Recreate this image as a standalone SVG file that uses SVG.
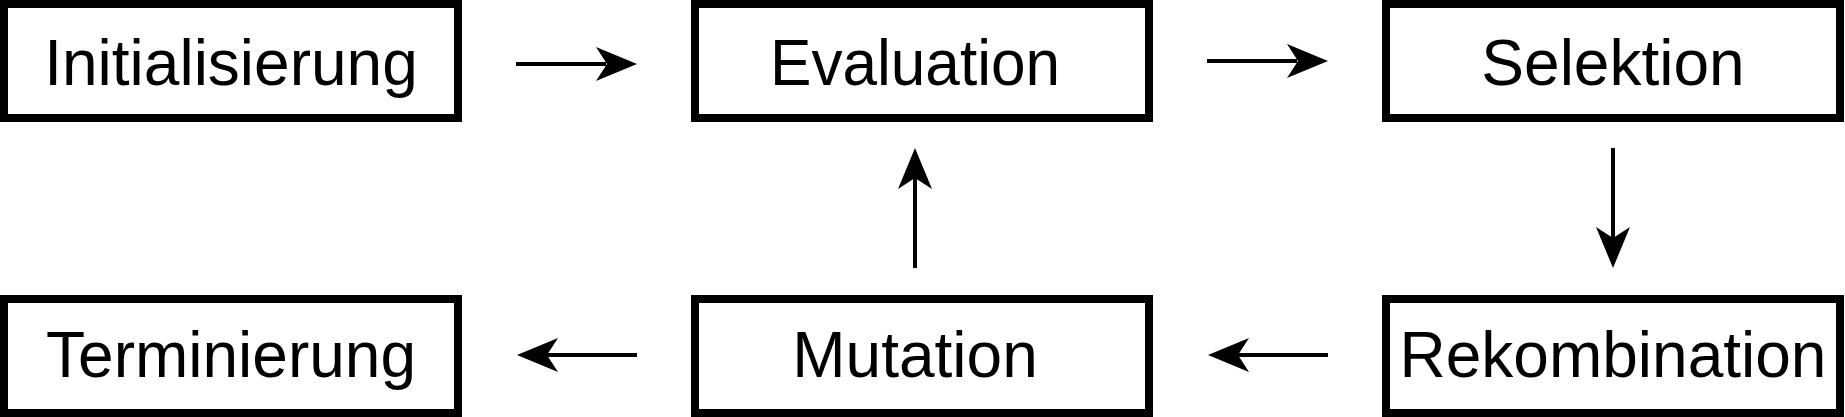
<svg xmlns="http://www.w3.org/2000/svg" width="1845" height="417" viewBox="0 0 1845 417">
<defs>
<style>
.box{fill:#fff;stroke:#000;stroke-width:8}
.lbl{font-family:"Liberation Sans",Arial,sans-serif;font-size:64px;fill:#000;text-anchor:middle}
.con{stroke:#000;stroke-width:4;fill:none}
.head{fill:#000}
</style>
</defs>
<rect width="1845" height="417" fill="#fff"/>
<g id="initialisierung"><rect class="box" x="4" y="4" width="454" height="114"/><text class="lbl" x="231" y="85">Initialisierung</text></g>
<g id="evaluation"><rect class="box" x="695" y="4" width="454" height="114"/><text class="lbl" x="915" y="85" textLength="290" lengthAdjust="spacingAndGlyphs">Evaluation</text></g>
<g id="selektion"><rect class="box" x="1386" y="4" width="454" height="114"/><text class="lbl" x="1613" y="85">Selektion</text></g>
<g id="terminierung"><rect class="box" x="4" y="299" width="454" height="114"/><text class="lbl" x="231" y="377">Terminierung</text></g>
<g id="mutation"><rect class="box" x="695" y="299" width="454" height="114"/><text class="lbl" x="915" y="377">Mutation</text></g>
<g id="rekombination"><rect class="box" x="1386" y="299" width="454" height="114"/><text class="lbl" x="1613" y="377">Rekombination</text></g>
<g id="connectors">
<line class="con" x1="516" y1="64" x2="606" y2="64"/><path class="head" d="M637,64 L596,47 L607,64 L596,81 Z"/>
<line class="con" x1="1207" y1="61" x2="1297" y2="61"/><path class="head" d="M1328,61 L1287,44 L1298,61 L1287,78 Z"/>
<line class="con" x1="1613" y1="148" x2="1613" y2="238"/><path class="head" d="M1613,268 L1596,227 L1613,238 L1630,227 Z"/>
<line class="con" x1="1328" y1="355" x2="1238" y2="355"/><path class="head" d="M1208,355 L1249,338 L1238,355 L1249,372 Z"/>
<line class="con" x1="915" y1="268" x2="915" y2="178"/><path class="head" d="M915,148 L898,189 L915,178 L932,189 Z"/>
<line class="con" x1="637" y1="355" x2="547" y2="355"/><path class="head" d="M517,355 L558,338 L547,355 L558,372 Z"/>
</g>
</svg>
